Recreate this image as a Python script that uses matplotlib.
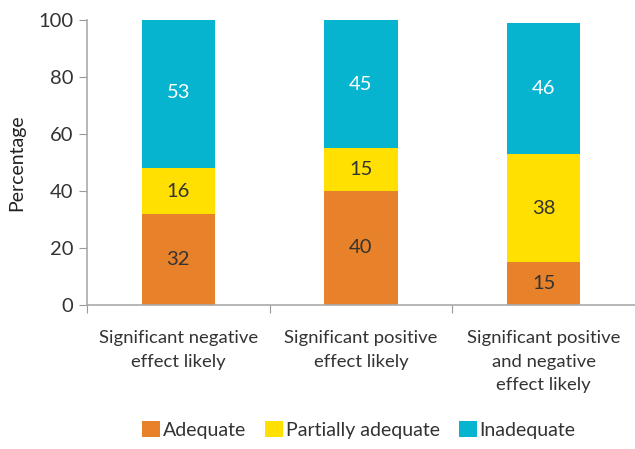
#!/usr/bin/env python3

import numpy as np
import matplotlib
matplotlib.use("Agg")
import matplotlib.pyplot as plt
from matplotlib.patches import Patch

categories = ["Significant negative\neffect likely",
              "Significant positive\neffect likely",
              "Significant positive\nand negative\neffect likely"]
adequate = [32, 40, 15]
partial = [16, 15, 38]
inadequate = [53, 45, 46]
series_names = ["Adequate", "Partially adequate", "Inadequate"]
colors = ["#E8822A", "#FFE000", "#06B4CF"]
label_colors = ["#333333", "#333333", "white"]
yticks = [0, 20, 40, 60, 80, 100]


def main():
    plt.rcParams['font.family'] = ['Lato', 'DejaVu Sans']
    fig = plt.figure(figsize=(6.35, 4.49), dpi=100)
    ax = fig.add_axes([0.137, 0.321, 0.863, 0.634])

    x = np.arange(len(categories))
    bottom = np.zeros(len(categories))
    for vals, col, lc in zip([adequate, partial, inadequate], colors, label_colors):
        vals = np.array(vals, dtype=float)
        bars = ax.bar(x, vals, width=0.40, bottom=bottom, color=col)
        for b, v, btm in zip(bars, vals, bottom):
            ax.text(b.get_x() + b.get_width() / 2, btm + v / 2, f"{int(v)}",
                    ha='center', va='center', fontsize=14.5, color=lc)
        bottom += vals

    ax.set_xlim(-0.5, 2.5)
    ax.set_ylim(0, 100)
    ax.set_yticks(yticks)
    ax.set_yticklabels([str(t) for t in yticks], fontsize=14.5, color='#333333')
    ax.set_xticks([-0.5, 0.5, 1.5])
    ax.set_xticklabels([])
    ax.set_xticks(x, minor=True)
    ax.set_xticklabels(categories, minor=True, fontsize=13.3, color='#333333',
                       linespacing=1.6)
    ax.tick_params(axis='x', which='minor', length=0, pad=18)
    ax.tick_params(axis='x', which='major', length=6, color='#999999')
    ax.tick_params(axis='y', length=6, color='#999999', pad=4)

    for s in ['top', 'right']:
        ax.spines[s].set_visible(False)
    for s in ['left', 'bottom']:
        ax.spines[s].set_color('#AAAAAA')
        ax.spines[s].set_linewidth(1.2)

    ax.set_ylabel("Percentage", fontsize=14, color='#222222', labelpad=9)

    handles = [Patch(facecolor=c) for c in colors]
    fig.legend(handles, series_names, loc='center', bbox_to_anchor=(0.565, 0.043),
               ncol=3, frameon=False, handlelength=0.9,
               handleheight=0.9, handletextpad=0.15, columnspacing=1.0,
               prop={'size': 14}, labelcolor='#333333')

    fig.savefig("out.png", dpi=100)


if __name__ == '__main__':
    main()
